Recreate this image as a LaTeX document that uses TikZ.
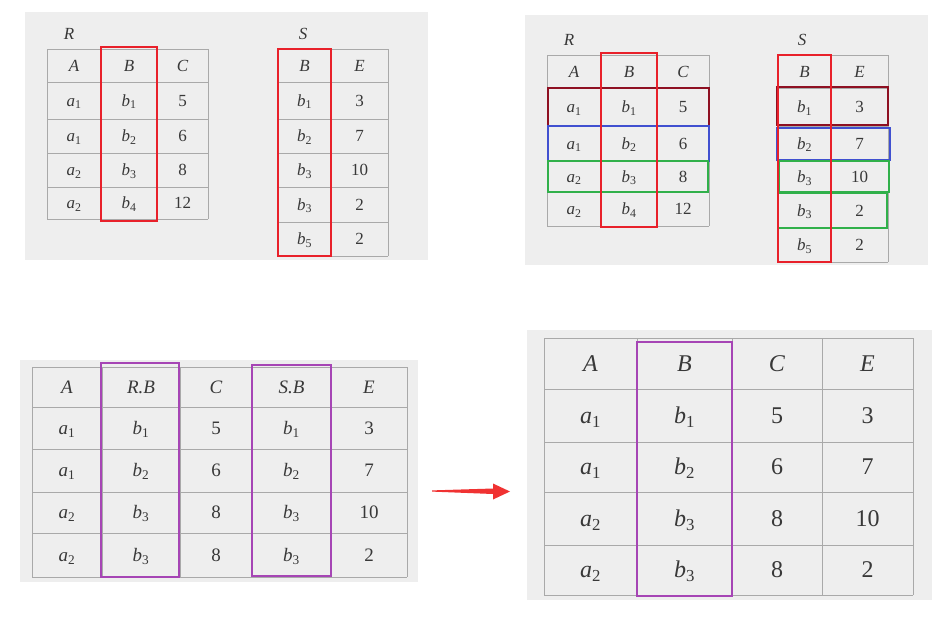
\documentclass[tikz,border=0pt]{standalone}
\usepackage{fontspec}
\setmainfont{Liberation Serif}
\definecolor{panelc}{HTML}{EEEEEE}
\definecolor{gridc}{HTML}{A9A9A9}
\definecolor{textc}{HTML}{383838}
\definecolor{boxred}{HTML}{E8202A}
\definecolor{boxdark}{HTML}{8E1022}
\definecolor{boxblue}{HTML}{4050D0}
\definecolor{boxgreen}{HTML}{30B04A}
\definecolor{boxpurple}{HTML}{A645B5}
\definecolor{arrowred}{HTML}{F03232}
\newcommand\ent[2]{\textit{#1}\textsubscript{#2}}
\begin{document}
\begin{tikzpicture}[x=1pt,y=-1pt,
  panel/.style={fill=panelc},
  gridline/.style={draw=gridc,line width=0.9pt},
  cell/.style={text=textc,inner sep=0pt,anchor=center,text depth=0pt},
  small/.style={cell,font=\fontsize{17}{20}\selectfont,text height=11.2pt},
  mid/.style={cell,font=\fontsize{19}{22}\selectfont,text height=12.5pt},
  big/.style={cell,font=\fontsize{24}{28}\selectfont,text height=15.8pt},
  redbox/.style={draw=boxred,line width=2pt},
  darkbox/.style={draw=boxdark,line width=2pt},
  bluebox/.style={draw=boxblue,line width=2pt},
  greenbox/.style={draw=boxgreen,line width=2pt},
  purplebox/.style={draw=boxpurple,line width=1.8pt}]
\useasboundingbox (0,0) rectangle (951,625);
\fill[white] (0,0) rectangle (951,625);

% ---------- panels ----------
\fill[panel] (25,12) rectangle (428,260);
\fill[panel] (525,15) rectangle (928,265);
\fill[panel] (20,360) rectangle (418,582);
\fill[panel] (527,330) rectangle (932,600);

% ---------- top-left ----------
\node[small] (tlRlab) at (69,34) {\textit{R}};
\node[small] (tlSlab) at (303,34) {\textit{S}};
\foreach \yy in {49,82,119,153,187,219} \draw[gridline] (47,\yy) -- (208,\yy);
\foreach \xx in {47,101,157,208} \draw[gridline] (\xx,49) -- (\xx,219);
\foreach \yy in {49,82,119,153,187,222,256} \draw[gridline] (278,\yy) -- (388,\yy);
\foreach \xx in {278,331,388} \draw[gridline] (\xx,49) -- (\xx,256);
\foreach \yy/\ca/\cb/\cc [count=\i] in {65.5/{\textit{A}}/{\textit{B}}/{\textit{C}},
   100.5/{\ent a1}/{\ent b1}/5, 136/{\ent a1}/{\ent b2}/6,
   170/{\ent a2}/{\ent b3}/8, 203/{\ent a2}/{\ent b4}/12}
 {\node[small] (tlRa\i) at (74,\yy) {\ca};
  \node[small] (tlRb\i) at (129,\yy) {\cb};
  \node[small] (tlRc\i) at (182.5,\yy) {\cc};}
\foreach \yy/\ca/\cb [count=\i] in {65.5/{\textit{B}}/{\textit{E}},
   100.5/{\ent b1}/3, 136/{\ent b2}/7, 170/{\ent b3}/10,
   204.5/{\ent b3}/2, 239/{\ent b5}/2}
 {\node[small] (tlSa\i) at (304.5,\yy) {\ca};
  \node[small] (tlSb\i) at (359.5,\yy) {\cb};}
\draw[redbox] (101,47) rectangle (157,221);
\draw[redbox] (278,49) rectangle (331,256);

% ---------- top-right ----------
\node[small] (trRlab) at (569,40) {\textit{R}};
\node[small] (trSlab) at (802,40) {\textit{S}};
\foreach \yy in {55,88,126,161,192,226} \draw[gridline] (547,\yy) -- (709,\yy);
\foreach \xx in {547,601,657,709} \draw[gridline] (\xx,55) -- (\xx,226);
\foreach \yy in {55,88,126,161,193,228,262} \draw[gridline] (778,\yy) -- (888,\yy);
\foreach \xx in {778,831,888} \draw[gridline] (\xx,55) -- (\xx,262);
\foreach \yy/\ca/\cb/\cc [count=\i] in {71.5/{\textit{A}}/{\textit{B}}/{\textit{C}},
   107/{\ent a1}/{\ent b1}/5, 143.5/{\ent a1}/{\ent b2}/6,
   176.5/{\ent a2}/{\ent b3}/8, 209/{\ent a2}/{\ent b4}/12}
 {\node[small] (trRa\i) at (574,\yy) {\ca};
  \node[small] (trRb\i) at (629,\yy) {\cb};
  \node[small] (trRc\i) at (683,\yy) {\cc};}
\foreach \yy/\ca/\cb [count=\i] in {71.5/{\textit{B}}/{\textit{E}},
   107/{\ent b1}/3, 143.5/{\ent b2}/7, 177/{\ent b3}/10,
   210.5/{\ent b3}/2, 245/{\ent b5}/2}
 {\node[small] (trSa\i) at (804.5,\yy) {\ca};
  \node[small] (trSb\i) at (859.5,\yy) {\cb};}
\draw[darkbox] (548,88) rectangle (709,126);
\draw[bluebox] (548,126) rectangle (709,161);
\draw[greenbox] (548,161) rectangle (708,192);
\draw[darkbox] (777,87) rectangle (888,125);
\draw[bluebox] (777,128) rectangle (890,160);
\draw[greenbox] (779,161) rectangle (889,192);
\draw[greenbox] (778,193) rectangle (887,228);
\draw[redbox] (601,53) rectangle (657,227);
\draw[redbox] (778,55) rectangle (831,262);

% ---------- bottom-left ----------
\foreach \yy in {367,407,449,492,533,577} \draw[gridline] (32,\yy) -- (407,\yy);
\foreach \xx in {32,102,180,252,331,407} \draw[gridline] (\xx,367) -- (\xx,577);
\foreach \yy/\ca/\cb/\cc/\cd/\ce [count=\i] in {
   387/{\textit{A}}/{\textit{R.B}}/{\textit{C}}/{\textit{S.B}}/{\textit{E}},
   428/{\ent a1}/{\ent b1}/5/{\ent b1}/3,
   470.5/{\ent a1}/{\ent b2}/6/{\ent b2}/7,
   512.5/{\ent a2}/{\ent b3}/8/{\ent b3}/10,
   555/{\ent a2}/{\ent b3}/8/{\ent b3}/2}
 {\node[mid] (bla\i) at (67,\yy) {\ca};
  \node[mid] (blb\i) at (141,\yy) {\cb};
  \node[mid] (blc\i) at (216,\yy) {\cc};
  \node[mid] (bld\i) at (291.5,\yy) {\cd};
  \node[mid] (ble\i) at (369,\yy) {\ce};}
\draw[purplebox] (101,363) rectangle (179,577);
\draw[purplebox] (252,365) rectangle (331,576);

% ---------- bottom-right ----------
\foreach \yy in {338,389,442,492,545,595} \draw[gridline] (544,\yy) -- (913,\yy);
\foreach \xx in {544,637,732,822,913} \draw[gridline] (\xx,338) -- (\xx,595);
\foreach \yy/\ca/\cb/\cc/\cd [count=\i] in {
   363.5/{\textit{A}}/{\textit{B}}/{\textit{C}}/{\textit{E}},
   415.5/{\ent a1}/{\ent b1}/5/3,
   467/{\ent a1}/{\ent b2}/6/7,
   518.5/{\ent a2}/{\ent b3}/8/10,
   570/{\ent a2}/{\ent b3}/8/2}
 {\node[big] (bra\i) at (590.5,\yy) {\ca};
  \node[big] (brb\i) at (684.5,\yy) {\cb};
  \node[big] (brc\i) at (777,\yy) {\cc};
  \node[big] (brd\i) at (867.5,\yy) {\cd};}
\draw[purplebox] (637,342) rectangle (732,596);

% ---------- arrow ----------
\coordinate (arS) at (432,491);
\coordinate (arE) at (510,491.5);
\fill[arrowred] (arS) -- ++(0,-0.6) -- ([shift={(-17,-3)}]arE) -- ([shift={(-17,-8)}]arE)
  -- (arE) -- ([shift={(-17,8)}]arE) -- ([shift={(-17,2.5)}]arE) -- ([shift={(0,0.6)}]arS) -- cycle;
\end{tikzpicture}
\end{document}
